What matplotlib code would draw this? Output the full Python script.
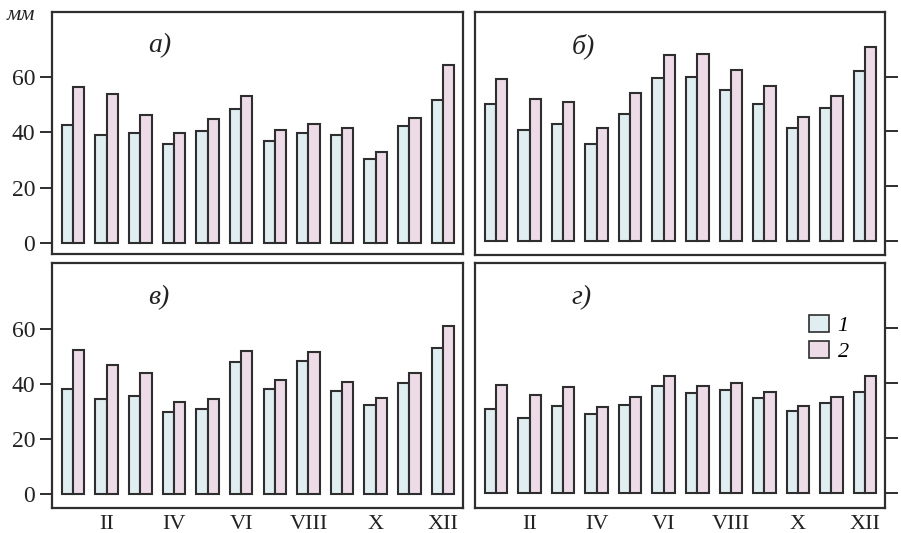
import matplotlib
matplotlib.use("Agg")
import matplotlib.pyplot as plt
from matplotlib.patches import Patch
import numpy as np

plt.rcParams['font.family'] = ['Liberation Serif', 'DejaVu Serif']

months = ['I', 'II', 'III', 'IV', 'V', 'VI', 'VII', 'VIII', 'IX', 'X', 'XI', 'XII']

# осадки, мм: ряд 1 и ряд 2 для каждой панели
a_1 = [42.7, 39.1, 39.9, 35.7, 40.5, 48.4, 37.0, 39.9, 39.1, 30.4, 42.3, 51.8]
a_2 = [56.4, 53.8, 46.3, 39.7, 44.8, 53.2, 41.0, 43.1, 41.6, 32.7, 45.2, 64.5]
b_1 = [50.2, 40.5, 42.9, 35.4, 46.3, 59.4, 60.0, 55.1, 50.2, 41.1, 48.4, 62.1]
b_2 = [59.1, 51.7, 50.6, 41.3, 53.9, 67.9, 68.5, 62.4, 56.6, 45.4, 52.9, 71.0]
v_1 = [38.1, 34.6, 35.7, 29.8, 30.9, 48.0, 38.1, 48.3, 37.5, 32.3, 40.4, 53.1]
v_2 = [52.5, 46.8, 44.0, 33.6, 34.6, 52.1, 41.3, 51.7, 40.6, 35.0, 44.0, 61.0]
g_1 = [30.4, 27.0, 31.5, 28.5, 31.9, 38.9, 36.1, 37.3, 34.5, 29.6, 32.7, 36.7]
g_2 = [39.3, 35.5, 38.5, 31.0, 34.9, 42.4, 38.8, 40.0, 36.5, 31.5, 34.9, 42.5]

panel_names = ['а)', 'б)', 'в)', 'г)']
series_names = ['1', '2']

W, H = 901, 533
c1 = '#e0eef2'
c2 = '#eddbe7'
ec = '#2e2e2e'

fig = plt.figure(figsize=(W / 100, H / 100), dpi=100)
fig.patch.set_facecolor('white')

def px_axes(l, t, r, b):
    return fig.add_axes([l / W, (H - b) / H, (r - l) / W, (b - t) / H])

boxes = [(52, 12, 463, 254), (475, 12, 885, 255),
         (52, 263, 463, 508), (475, 263, 885, 508)]
data = [(a_1, a_2), (b_1, b_2), (v_1, v_2), (g_1, g_2)]
ylims = [(-4.0, 83.5), (-5.2, 83.7), (-5.1, 84.0), (-5.6, 83.5)]

x = np.arange(len(months))
bw = 0.336

for i, (box, (s1, s2), name, yl) in enumerate(zip(boxes, data, panel_names, ylims)):
    ax = px_axes(*box)
    ax.bar(x - bw / 2, s1, bw, color=c1, edgecolor=ec, linewidth=1.5, zorder=2)
    ax.bar(x + bw / 2, s2, bw, color=c2, edgecolor=ec, linewidth=1.5, zorder=2)
    ax.set_xlim(-0.63, 11.6)
    ax.set_ylim(*yl)
    ax.set_yticks([0, 20, 40, 60])
    for sp in ax.spines.values():
        sp.set_linewidth(1.6)
        sp.set_color(ec)
    left = i % 2 == 0
    if left:
        ax.tick_params(axis='y', direction='out', length=9, width=1.4, color=ec,
                       labelsize=17, labelcolor='#222222', pad=3,
                       left=True, right=False, labelleft=True)
    else:
        ax.tick_params(axis='y', direction='out', length=9, width=1.4, color=ec,
                       left=False, right=True, labelleft=False, labelright=False)
    if i >= 2:
        ax.set_xticks(x[1::2])
        ax.set_xticklabels(months[1::2])
        ax.tick_params(axis='x', length=0, labelsize=16, labelcolor='#222222', pad=5)
    else:
        ax.set_xticks([])
    ax.text(0.235, 0.86, name, transform=ax.transAxes, fontsize=20,
            style='italic', ha='left', va='center', color='#222222')
    if i == 3:
        handles = [Patch(facecolor=c1, edgecolor=ec, linewidth=1.2),
                   Patch(facecolor=c2, edgecolor=ec, linewidth=1.2)]
        leg = ax.legend(handles, series_names, loc='upper left',
                        bbox_to_anchor=(0.765, 0.87), frameon=False,
                        prop={'size': 16, 'style': 'italic'},
                        handlelength=0.9, handleheight=0.8,
                        handletextpad=0.4, labelspacing=0.2)

fig.text(7 / W, 1 - 15 / H, 'мм', fontsize=16, style='italic',
         ha='left', va='center', color='#222222')

fig.savefig('out.png', dpi=100)
